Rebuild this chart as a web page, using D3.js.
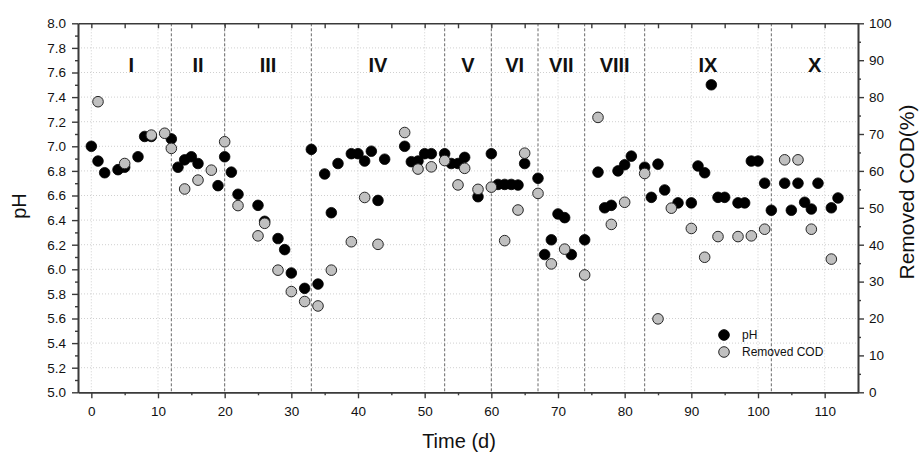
<!DOCTYPE html>
<html>
<head>
<meta charset="utf-8">
<script src="https://cdn.jsdelivr.net/npm/d3@7"></script>
<style>
  body { margin: 0; background: #fff; }
  svg { display: block; font-family: "Liberation Sans", Arial, sans-serif; }
</style>
</head>
<body>
<div id="chart"></div>
<script>
// pH (black) readings, day -> value
const phDays = [0, 1, 2, 4, 5, 7, 8, 9, 12, 13, 14, 15, 16, 19, 20, 21, 22, 25, 26, 28,
  29, 30, 32, 33, 34, 35, 36, 37, 39, 40, 41, 42, 43, 44, 47, 48, 49, 50, 51, 53,
  54, 55, 56, 58, 60, 61, 62, 63, 64, 65, 67, 68, 69, 70, 71, 72, 74, 76, 77, 78,
  79, 80, 81, 83, 84, 85, 86, 88, 90, 91, 92, 93, 94, 95, 97, 98, 99, 100, 101, 102,
  104, 105, 106, 107, 108, 109, 111, 112]
const phValues = [7.0, 6.88, 6.785, 6.81, 6.83, 6.915, 7.08, 7.08, 7.06, 6.83, 6.89, 6.915, 6.86, 6.68, 6.915, 6.79, 6.61, 6.52, 6.39, 6.25,
  6.16, 5.97, 5.845, 6.975, 5.88, 6.775, 6.46, 6.86, 6.94, 6.94, 6.88, 6.96, 6.56, 6.895, 7.0, 6.875, 6.88, 6.94, 6.94, 6.94,
  6.86, 6.86, 6.91, 6.59, 6.94, 6.69, 6.69, 6.69, 6.685, 6.86, 6.74, 6.12, 6.24, 6.45, 6.42, 6.12, 6.24, 6.79, 6.5, 6.52,
  6.8, 6.85, 6.92, 6.83, 6.585, 6.855, 6.645, 6.54, 6.54, 6.84, 6.785, 7.5, 6.585, 6.585, 6.54, 6.54, 6.88, 6.88, 6.7, 6.48,
  6.7, 6.48, 6.7, 6.545, 6.49, 6.7, 6.5, 6.58]

// Removed COD (grey) readings, day -> %
const codDays = [1, 5, 9, 11, 12, 14, 16, 18, 20, 22, 25, 26, 28, 30, 32, 34, 36, 39, 41, 43,
  47, 49, 51, 53, 55, 56, 58, 60, 62, 64, 65, 67, 69, 71, 74, 76, 78, 80, 83, 85,
  87, 90, 92, 94, 97, 99, 101, 104, 106, 108, 111]
const codValues = [78.75, 62.0, 69.7, 70.2, 66.1, 55.1, 57.5, 60.2, 67.9, 50.6, 42.4, 45.8, 33.1, 27.3, 24.6, 23.4, 33.1, 40.8, 52.8, 40.1,
  70.4, 60.5, 61.1, 62.8, 56.2, 60.7, 55.0, 55.6, 41.1, 49.4, 64.8, 53.9, 34.8, 38.8, 31.8, 74.5, 45.5, 51.5, 59.3, 19.9,
  49.9, 44.4, 36.6, 42.2, 42.2, 42.4, 44.2, 63.0, 63.0, 44.2, 36.1]

// operating phases
const phaseBounds = [0, 12, 20, 33, 53, 60, 67, 74, 83, 102, 115]
const phaseLabels = ["I", "II", "III", "IV", "V", "VI", "VII", "VIII", "IX", "X"]

const xTicks = [0, 10, 20, 30, 40, 50, 60, 70, 80, 90, 100, 110]
const xMinorTicks = [5, 15, 25, 35, 45, 55, 65, 75, 85, 95, 105]
const phTicks = [5.0, 5.2, 5.4, 5.6, 5.8, 6.0, 6.2, 6.4, 6.6, 6.8, 7.0, 7.2, 7.4, 7.6, 7.8, 8.0]
const phMinorTicks = [5.1, 5.3, 5.5, 5.7, 5.9, 6.1, 6.3, 6.5, 6.7, 6.9, 7.1, 7.3, 7.5, 7.7, 7.9]
const codTicks = [0, 10, 20, 30, 40, 50, 60, 70, 80, 90, 100]
const codMinorTicks = [5, 15, 25, 35, 45, 55, 65, 75, 85, 95]

const width = 922
const height = 452
const plot = { left: 78, right: 858, top: 23.3, bottom: 392.3 }

const svg = d3
  .select("#chart")
  .append("svg")
  .attr("width", width)
  .attr("height", height)

const x = d3.scaleLinear().domain([-2, 115]).range([plot.left, plot.right])
const yPh = d3.scaleLinear().domain([5, 8]).range([plot.bottom, plot.top])
const yCod = d3.scaleLinear().domain([0, 100]).range([plot.bottom, plot.top])

// dotted grid
svg
  .append("g")
  .selectAll("line")
  .data(phTicks.slice(1, -1))
  .join("line")
  .attr("x1", plot.left)
  .attr("x2", plot.right)
  .attr("y1", (d) => yPh(d))
  .attr("y2", (d) => yPh(d))
  .attr("stroke", "#c4c4c4")
  .attr("stroke-width", 0.8)
  .attr("stroke-dasharray", "1,2")

svg
  .append("g")
  .selectAll("line")
  .data(xTicks)
  .join("line")
  .attr("x1", (d) => x(d))
  .attr("x2", (d) => x(d))
  .attr("y1", plot.top)
  .attr("y2", plot.bottom)
  .attr("stroke", "#c4c4c4")
  .attr("stroke-width", 0.8)
  .attr("stroke-dasharray", "1,2")

// phase dividers
svg
  .append("g")
  .selectAll("line")
  .data(phaseBounds.slice(1, -1))
  .join("line")
  .attr("x1", (d) => x(d))
  .attr("x2", (d) => x(d))
  .attr("y1", plot.top)
  .attr("y2", plot.bottom)
  .attr("stroke", "#6a6a6a")
  .attr("stroke-width", 1)
  .attr("stroke-dasharray", "3,2")

svg
  .append("g")
  .selectAll("text")
  .data(phaseLabels)
  .join("text")
  .attr("x", (d, i) => x((phaseBounds[i] + phaseBounds[i + 1]) / 2))
  .attr("y", 72)
  .attr("text-anchor", "middle")
  .attr("font-size", "20px")
  .attr("font-weight", "bold")
  .attr("fill", "#111")
  .text((d) => d)

// axes
const styleAxis = (g) => {
  g.select(".domain").attr("stroke", "#3a3a3a").attr("stroke-width", 1.6)
  g.selectAll(".tick line").attr("stroke", "#3a3a3a").attr("stroke-width", 1.4)
  g.selectAll(".tick text").attr("font-size", "13.5px").attr("fill", "#111")
}

svg
  .append("g")
  .attr("transform", `translate(0,${plot.bottom})`)
  .call(d3.axisBottom(x).tickValues(xMinorTicks).tickSize(3).tickSizeOuter(0).tickFormat(""))
  .call(styleAxis)
svg
  .append("g")
  .attr("transform", `translate(0,${plot.bottom})`)
  .call(d3.axisBottom(x).tickValues(xTicks).tickSize(6).tickPadding(8).tickSizeOuter(0).tickFormat(d3.format("d")))
  .call(styleAxis)

svg
  .append("g")
  .attr("transform", `translate(0,${plot.top})`)
  .call(d3.axisTop(x).tickValues(xTicks.concat(xMinorTicks)).tickSize(-5).tickSizeOuter(0).tickFormat(""))
  .call(styleAxis)

svg
  .append("g")
  .attr("transform", `translate(${plot.left},0)`)
  .call(d3.axisLeft(yPh).tickValues(phMinorTicks).tickSize(3).tickSizeOuter(0).tickFormat(""))
  .call(styleAxis)
svg
  .append("g")
  .attr("transform", `translate(${plot.left},0)`)
  .call(d3.axisLeft(yPh).tickValues(phTicks).tickSize(6).tickPadding(6).tickSizeOuter(0).tickFormat(d3.format(".1f")))
  .call(styleAxis)

svg
  .append("g")
  .attr("transform", `translate(${plot.right},0)`)
  .call(d3.axisRight(yCod).tickValues(codMinorTicks).tickSize(3).tickSizeOuter(0).tickFormat(""))
  .call(styleAxis)
svg
  .append("g")
  .attr("transform", `translate(${plot.right},0)`)
  .call(d3.axisRight(yCod).tickValues(codTicks).tickSize(6).tickPadding(5).tickSizeOuter(0).tickFormat(d3.format("d")))
  .call(styleAxis)

// axis titles
svg
  .append("text")
  .attr("x", 459)
  .attr("y", 448)
  .attr("text-anchor", "middle")
  .attr("font-size", "20px")
  .attr("fill", "#111")
  .text("Time (d)")

svg
  .append("text")
  .attr("transform", "translate(26,206) rotate(-90)")
  .attr("text-anchor", "middle")
  .attr("font-size", "20px")
  .attr("fill", "#111")
  .text("pH")

svg
  .append("text")
  .attr("transform", "translate(914,192) rotate(-90)")
  .attr("text-anchor", "middle")
  .attr("font-size", "21px")
  .attr("fill", "#111")
  .text("Removed COD(%)")

// points
const r = 5.3
svg
  .append("g")
  .selectAll("circle")
  .data(phDays)
  .join("circle")
  .attr("cx", (d) => x(d))
  .attr("cy", (d, i) => yPh(phValues[i]))
  .attr("r", r)
  .attr("fill", "#000")
  .attr("stroke", "#000")
  .attr("stroke-width", 0.8)

svg
  .append("g")
  .selectAll("circle")
  .data(codDays)
  .join("circle")
  .attr("cx", (d) => x(d))
  .attr("cy", (d, i) => yCod(codValues[i]))
  .attr("r", r)
  .attr("fill", "#c0c0c0")
  .attr("stroke", "#262626")
  .attr("stroke-width", 1)

// legend
const legend = svg.append("g").attr("transform", "translate(724,335)")
const legendItems = [
  { name: "pH", fill: "#000", stroke: "#000" },
  { name: "Removed COD", fill: "#c0c0c0", stroke: "#262626" },
]
legend
  .selectAll("circle")
  .data(legendItems)
  .join("circle")
  .attr("cx", 0)
  .attr("cy", (d, i) => i * 17)
  .attr("r", r)
  .attr("fill", (d) => d.fill)
  .attr("stroke", (d) => d.stroke)
legend
  .selectAll("text")
  .data(legendItems)
  .join("text")
  .attr("x", 18)
  .attr("y", (d, i) => i * 17 + 4)
  .attr("font-size", "12px")
  .attr("fill", "#111")
  .text((d) => d.name)
</script>
</body>
</html>
